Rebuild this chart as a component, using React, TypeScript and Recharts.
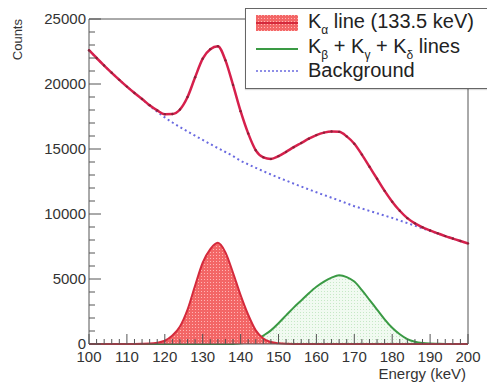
import React from "react";
import {
  ComposedChart,
  Area,
  Line,
  XAxis,
  YAxis,
  ReferenceLine,
  Legend
} from "recharts";

// energy bins (keV)
const energy = [
  100, 102, 104, 106, 108, 110, 112, 114, 116, 118, 120, 122, 124, 126, 128, 130, 132, 134,
  136, 138, 140, 142, 144, 146, 148, 150, 152, 154, 156, 158, 160, 162, 164, 166, 168, 170,
  172, 174, 176, 178, 180, 182, 184, 186, 188, 190, 192, 194, 196, 198, 200
];

const background = [
  22600, 22000, 21420, 20860, 20320, 19800, 19310, 18840, 18330, 17870, 17430, 17040, 16690,
  16350, 16020, 15700, 15380, 15070, 14770, 14450, 14100, 13820, 13550, 13290, 13040, 12800,
  12570, 12340, 12110, 11890, 11670, 11460, 11250, 11040, 10820, 10600, 10420, 10240, 10060,
  9880, 9700, 9500, 9300, 9100, 8900, 8700, 8500, 8300, 8110, 7920, 7740
];

const kAlpha = [
  0, 0, 0, 0, 0, 0, 0, 10, 30, 100, 250, 650, 1350, 2650, 4500, 6250, 7300, 7780, 7050, 5480,
  3760, 2250, 1050, 420, 150, 50, 10, 0, 0, 0, 0, 0, 0, 0, 0, 0, 0, 0, 0, 0, 0, 0, 0, 0, 0, 0,
  0, 0, 0, 0, 0
];

const kBeta = [
  0, 0, 0, 0, 0, 0, 0, 0, 0, 0, 0, 0, 0, 0, 0, 0, 0, 0, 0, 0, 50, 130, 300, 650, 1050, 1600,
  2200, 2800, 3350, 3900, 4400, 4800, 5100, 5280, 5150, 4800, 4150, 3400, 2650, 1900, 1250,
  750, 380, 180, 80, 35, 15, 0, 0, 0, 0
];

const total = [
  22600, 22000, 21420, 20860, 20320, 19800, 19310, 18850, 18360, 17970, 17680, 17690, 18040,
  19000, 20520, 21950, 22680, 22900, 21820, 19930, 17910, 16200, 14900, 14360, 14240, 14450,
  14780, 15140, 15460, 15790, 16070, 16260, 16350, 16320, 15970, 15400, 14570, 13640, 12710,
  11780, 10950, 10250, 9680, 9280, 8980, 8735, 8515, 8300, 8110, 7920, 7740
];

const xMajor = [100, 110, 120, 130, 140, 150, 160, 170, 180, 190, 200];
const yTicks = [
  0, 1000, 2000, 3000, 4000, 5000, 6000, 7000, 8000, 9000, 10000, 11000, 12000, 13000, 14000,
  15000, 16000, 17000, 18000, 19000, 20000, 21000, 22000, 23000, 24000, 25000
];
const yMajor = [0, 5000, 10000, 15000, 20000, 25000];

const data = energy.map((e, i) => ({
  e,
  bg: background[i],
  ka: kAlpha[i],
  kb: kBeta[i],
  total: total[i]
}));

const FONT = '"Liberation Sans", Arial, Helvetica, sans-serif';
const AXIS = "#555";
const TEXT = "#333";

const XTick = (props: any) => {
  const { x, y, payload } = props;
  const major = xMajor.includes(payload.value);
  return (
    <g>
      <line x1={x} y1={y} x2={x} y2={y - (major ? 10 : 5)} stroke={AXIS} strokeWidth={1} />
      {major ? (
        <text x={x} y={y + 18} textAnchor="middle" fontSize={15} fontFamily={FONT} fill={TEXT}>
          {payload.value}
        </text>
      ) : null}
    </g>
  );
};

const YTick = (props: any) => {
  const { x, y, payload } = props;
  const major = yMajor.includes(payload.value);
  return (
    <g>
      <line x1={x} y1={y} x2={x + (major ? 12 : 6)} y2={y} stroke={AXIS} strokeWidth={1} />
      {major ? (
        <text x={x - 3} y={y + 5} textAnchor="end" fontSize={15} fontFamily={FONT} fill={TEXT}>
          {payload.value}
        </text>
      ) : null}
    </g>
  );
};

const Sub = ({ children }: { children: React.ReactNode }) => (
  <span style={{ fontSize: 12, position: "relative", top: 6 }}>{children}</span>
);

const LegendBox = () => (
  <div
    style={{
      position: "relative",
      width: 280,
      height: 79,
      background: "#fff",
      border: "1px solid #666",
      fontFamily: FONT,
      fontSize: 20,
      color: "#222",
      boxShadow: "0 1px 1px rgba(0,0,0,0.15)"
    }}
  >
    <svg width={60} height={79} style={{ position: "absolute", left: 0, top: 0 }}>
      <defs>
        <pattern id="lgRed" width={3} height={3} patternUnits="userSpaceOnUse">
          <rect width={3} height={3} fill="#f36666" />
          <rect width={1} height={1} fill="#ffb4b4" />
        </pattern>
      </defs>
      <rect x={10} y={6} width={42} height={16} fill="url(#lgRed)" />
      <line x1={10} y1={14} x2={52} y2={14} stroke="#d42a3c" strokeWidth={2} />
      <line x1={10} y1={40} x2={52} y2={40} stroke="#3a9a44" strokeWidth={2} />
      <line x1={10} y1={62} x2={52} y2={62} stroke="#6a6ae0" strokeWidth={1.5} strokeDasharray="2 2" />
    </svg>
    <div style={{ position: "absolute", left: 62, top: 0, whiteSpace: "nowrap", lineHeight: "24px" }}>
      K<Sub>α</Sub> line (133.5 keV)
    </div>
    <div style={{ position: "absolute", left: 62, top: 25, whiteSpace: "nowrap", lineHeight: "24px" }}>
      K<Sub>β</Sub> + K<Sub>γ</Sub> + K<Sub>δ</Sub> lines
    </div>
    <div style={{ position: "absolute", left: 62, top: 49, whiteSpace: "nowrap", lineHeight: "24px" }}>
      Background
    </div>
  </div>
);

export default function App() {
  return (
    <div
      style={{
        position: "absolute",
        left: 0,
        top: 0,
        width: 487,
        height: 386,
        overflow: "hidden",
        background: "#fff"
      }}
    >
      <ComposedChart
        width={487}
        height={386}
        data={data}
        margin={{ top: 19, right: 19, bottom: 0, left: 0 }}
      >
        <defs>
          <pattern id="redHatch" width={3} height={3} patternUnits="userSpaceOnUse">
            <rect width={3} height={3} fill="#f36666" />
            <rect width={1} height={1} fill="#ffb4b4" />
          </pattern>
          <pattern id="greenHatch" width={3} height={3} patternUnits="userSpaceOnUse">
            <rect width={3} height={3} fill="#f1faf1" />
            <rect width={1} height={1} fill="#c6e8c6" />
          </pattern>
        </defs>
        <XAxis
          dataKey="e"
          type="number"
          domain={[100, 200]}
          ticks={energy}
          interval={0}
          height={42}
          tickSize={0}
          tickMargin={0}
          tickLine={false}
          tick={<XTick />}
          axisLine={{ stroke: AXIS }}
          label={{
            content: () => (
              <text x={466} y={379} textAnchor="end" fontSize={15} fontFamily={FONT} fill={TEXT}>
                Energy (keV)
              </text>
            )
          }}
        />
        <YAxis
          type="number"
          domain={[0, 25000]}
          ticks={yTicks}
          interval={0}
          width={89}
          tickSize={0}
          tickMargin={0}
          tickLine={false}
          tick={<YTick />}
          axisLine={{ stroke: AXIS }}
          label={{
            content: () => (
              <text
                x={0}
                y={0}
                transform="translate(22,19) rotate(-90)"
                textAnchor="end"
                fontSize={13}
                fontFamily={FONT}
                fill={TEXT}
              >
                Counts
              </text>
            )
          }}
        />
        <ReferenceLine y={25000} stroke={AXIS} />
        <ReferenceLine x={200} stroke={AXIS} />
        <Area
          type="monotone"
          dataKey="kb"
          stroke="#3a9a44"
          strokeWidth={2}
          fill="url(#greenHatch)"
          fillOpacity={1}
          isAnimationActive={false}
        />
        <Area
          type="monotone"
          dataKey="ka"
          stroke="#d42a3c"
          strokeWidth={2}
          fill="url(#redHatch)"
          fillOpacity={1}
          isAnimationActive={false}
        />
        <Line
          type="monotone"
          dataKey="bg"
          stroke="#6a6ae0"
          strokeWidth={2}
          strokeDasharray="2 3"
          dot={false}
          isAnimationActive={false}
        />
        <Line
          type="monotone"
          dataKey="total"
          stroke="#d6204c"
          strokeWidth={2.5}
          dot={{ r: 1.2, fill: "#8a2038", stroke: "none" }}
          isAnimationActive={false}
        />
        <Legend
          verticalAlign="middle"
          layout="horizontal"
          wrapperStyle={{ position: "absolute", left: 245, top: 8, width: 282, height: 81 }}
          content={() => <LegendBox />}
        />
      </ComposedChart>
    </div>
  );
}
